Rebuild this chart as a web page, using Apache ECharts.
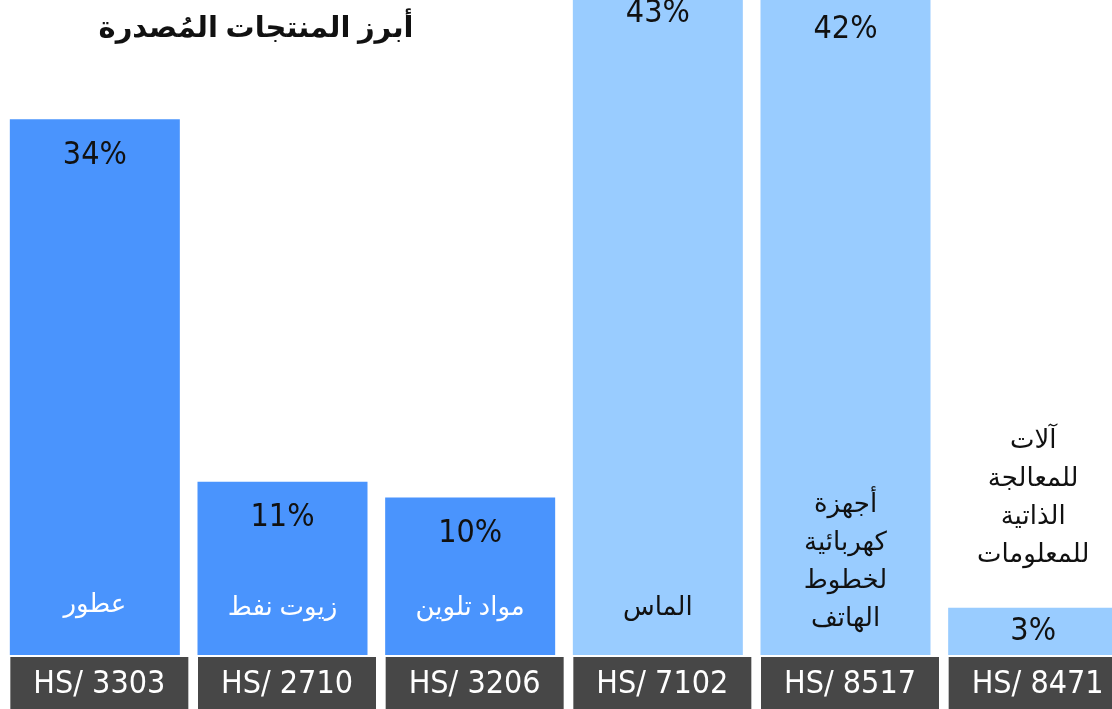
<!DOCTYPE html>
<html>
<head>
<meta charset="utf-8">
<script src="https://cdn.jsdelivr.net/npm/echarts@6/dist/echarts.min.js"></script>
<style>
  html, body { margin: 0; padding: 0; background: #fff; }
  #chart { width: 1112px; height: 709px; }
</style>
</head>
<body>
<div id="chart"></div>
<script>
// data
var codes = ['HS/ 3303', 'HS/ 2710', 'HS/ 3206', 'HS/ 7102', 'HS/ 8517', 'HS/ 8471'];
var names = ['عطور', 'زيوت نفط', 'مواد تلوين', 'الماس', 'أجهزة\nكهربائية\nلخطوط\nالهاتف', 'آلات\nللمعالجة\nالذاتية\nللمعلومات'];
var shares = [34, 11, 10, 43, 42, 3];

var darkBlue = '#4a94fd', lightBlue = '#99ccff';
var numFont = '"DejaVu Sans Condensed", "Liberation Sans", Arial, sans-serif';
var arFont = '"Noto Sans", "DejaVu Sans", sans-serif';

var chart = echarts.init(document.getElementById('chart'));

var barData = shares.map(function (v, i) {
    var item = {
        value: v,
        itemStyle: { color: i < 3 ? darkBlue : lightBlue }
    };
    // small bar: percent sits in the middle
    if (i === 5) item.label = { position: 'inside' };
    return item;
});

var nameData = shares.map(function (v, i) {
    var item = {
        value: v,
        label: {
            formatter: names[i],
            color: i < 3 ? '#fff' : '#111'
        }
    };
    if (i === 5) {
        item.label.position = 'top';
        item.label.distance = 34;
    }
    if (i === 4) item.label.distance = 17;
    if (i === 0) item.label.distance = 31;
    return item;
});

var option = {
    animation: false,
    title: {
        text: 'أبرز المنتجات المُصدرة',
        left: 251,
        top: 9,
        textAlign: 'center',
        textStyle: { fontFamily: arFont, fontSize: 29, fontWeight: 'bold', color: '#111' }
    },
    grid: { left: 1, right: -15, top: -54, bottom: 54, containLabel: false, outerBoundsMode: 'none' },
    xAxis: {
        type: 'category',
        data: codes,
        axisLine: { show: false },
        axisTick: { show: false },
        axisLabel: {
            margin: 2,
            interval: 0,
            padding: [0, 0, 0, 9],
            formatter: function (v) { return '{box|' + v + '}'; },
            rich: {
                box: {
                    backgroundColor: '#474747',
                    color: '#fff',
                    width: 178,
                    height: 56,
                    lineHeight: 56,
                    align: 'center',
                    fontSize: 32,
                    fontFamily: numFont
                }
            }
        }
    },
    yAxis: {
        type: 'value',
        min: 0,
        max: 45,
        show: false,
        splitLine: { show: false }
    },
    series: [
        {
            type: 'bar',
            barWidth: 170,
            data: barData,
            label: {
                show: true,
                position: 'insideTop',
                distance: 20,
                formatter: '{c}%',
                color: '#111',
                fontSize: 32,
                fontFamily: numFont
            }
        },
        {
            type: 'bar',
            barWidth: 170,
            barGap: '-100%',
            data: nameData,
            itemStyle: { color: 'rgba(0,0,0,0)' },
            label: {
                show: true,
                position: 'insideBottom',
                distance: 28,
                fontSize: 26,
                lineHeight: 38,
                fontFamily: arFont
            }
        }
    ]
};

chart.setOption(option);
</script>
</body>
</html>
